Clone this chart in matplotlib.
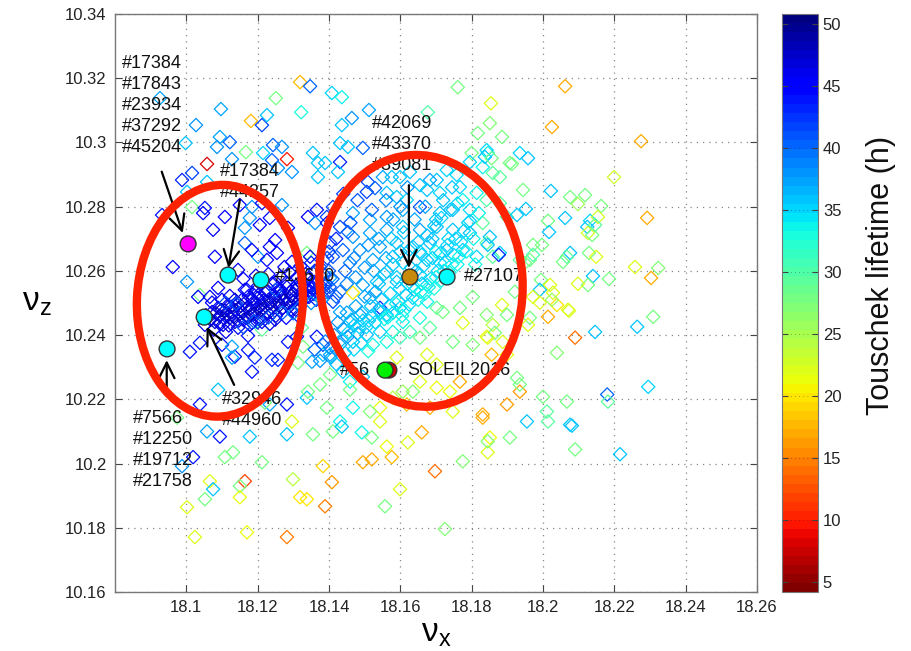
import numpy as np
import matplotlib
matplotlib.use("Agg")
import matplotlib.pyplot as plt
from matplotlib.patches import Ellipse
from matplotlib.colors import Normalize
from matplotlib.cm import ScalarMappable

plt.rcParams['font.family'] = ['Liberation Sans', 'DejaVu Sans']
plt.rcParams['mathtext.fontset'] = 'dejavusans'

# ---- data: (nu_x, nu_z, Touschek lifetime [h]) ----
pts = [
 (18.1319,10.3188,18),(18.1347,10.3175,40),(18.1251,10.3138,28),(18.1408,10.3154,35),(18.1436,10.3141,34),
 (18.1761,10.3172,28),(18.1854,10.3122,22),(18.1851,10.3060,27),(18.2062,10.3175,17),(18.2025,10.3048,17),
 (18.2275,10.3004,17),(18.1097,10.3104,37),(18.1181,10.3067,18),(18.1212,10.3054,42),(18.1226,10.3085,36),
 (18.1322,10.3094,33),(18.1027,10.3054,38),(18.0998,10.2998,36),(18.0926,10.3138,37),(18.1094,10.3017,37),
 (18.1122,10.3001,40),(18.1086,10.2986,38),(18.1167,10.2970,28),(18.1215,10.2967,35),(18.1243,10.2992,40),
 (18.1268,10.2986,38),(18.1282,10.2948,10),(18.1058,10.2933,8),(18.1128,10.2948,38),(18.0988,10.2883,43),
 (18.1016,10.2905,42),(18.1002,10.2846,36),(18.1058,10.2877,36),(18.1296,10.2908,38),(18.1257,10.2920,38),
 (18.1355,10.2967,36),(18.1369,10.2936,36),(18.1369,10.2892,36),(18.1431,10.2998,36),(18.1431,10.2939,43),
 (18.1453,10.2986,36),(18.1464,10.3076,38),(18.1436,10.3054,36),(18.1512,10.3101,37),(18.1677,10.3094,30),
 (18.1817,10.3029,28),(18.1800,10.2967,28),(18.1845,10.2967,34),(18.1495,10.2983,40),(18.1389,10.2936,36),
 (18.1425,10.2908,36),(18.1509,10.2877,42),(18.1506,10.2846,42),(18.1529,10.2858,40),(18.1551,10.2892,37),
 (18.1576,10.2892,36),(18.1599,10.2892,36),(18.1627,10.2908,36),(18.1702,10.2883,36),(18.1730,10.2914,35),
 (18.1758,10.2899,35),(18.1795,10.2939,35),(18.1831,10.2923,34),(18.1859,10.2905,29),(18.1879,10.2892,29),
 (18.1907,10.2936,28),(18.1935,10.2967,35),(18.1944,10.2852,28),(18.1885,10.3017,28),(18.1842,10.2976,35),
 (18.1683,10.2883,37),(18.1655,10.2867,36),(18.1562,10.2843,36),(18.1590,10.2830,36),(18.1618,10.2821,35),
 (18.1675,10.2852,36),(18.1711,10.2843,35),(18.1767,10.2861,35),(18.1775,10.2821,34),(18.1814,10.2843,34),
 (18.1842,10.2821,30),(18.1879,10.2811,29),(18.1899,10.2768,30),(18.1831,10.2749,29),(18.1795,10.2790,35),
 (18.1747,10.2790,36),(18.1711,10.2780,36),(18.1655,10.2799,41),(18.1607,10.2790,37),(18.1562,10.2768,38),
 (18.1515,10.2759,37),(18.1467,10.2780,37),(18.1411,10.2799,42),(18.1394,10.2768,42),(18.1431,10.2737,42),
 (18.1467,10.2706,38),(18.1515,10.2718,37),(18.1562,10.2728,37),(18.1607,10.2737,36),(18.1655,10.2728,37),
 (18.1702,10.2737,36),(18.1747,10.2728,36),(18.1795,10.2718,36),(18.1842,10.2687,29),(18.1879,10.2656,35),
 (18.1403,10.2687,42),(18.1439,10.2665,40),(18.1487,10.2665,38),(18.1543,10.2675,37),(18.1590,10.2687,36),
 (18.1635,10.2675,36),(18.1683,10.2687,36),(18.1730,10.2665,36),(18.1775,10.2665,35),(18.1814,10.2644,35),
 (18.1411,10.2644,41),(18.1459,10.2625,39),(18.1523,10.2634,37),(18.1579,10.2644,36),(18.1675,10.2634,36),
 (18.1711,10.2625,35),(18.1859,10.2644,29),(18.1935,10.2634,29),
 (18.1403,10.2578,37),(18.1431,10.2535,40),(18.1411,10.2504,42),(18.1467,10.2532,20),(18.1495,10.2556,37),
 (18.1534,10.2566,36),(18.1562,10.2597,36),(18.1590,10.2566,36),(18.1655,10.2588,35),(18.1675,10.2556,35),
 (18.1543,10.2485,43),(18.1515,10.2516,37),(18.1487,10.2463,37),(18.1459,10.2441,36),(18.1431,10.2472,37),
 (18.1562,10.2463,36),(18.1599,10.2485,35),(18.1635,10.2516,35),(18.1675,10.2504,34),(18.1702,10.2485,29),
 (18.1607,10.2441,34),(18.1655,10.2454,33),(18.1579,10.2410,34),(18.1543,10.2410,35),(18.1506,10.2401,36),
 (18.1467,10.2379,36),(18.1431,10.2370,37),(18.1403,10.2361,40),(18.1383,10.2370,41),(18.1383,10.2339,36),
 (18.1523,10.2370,34),(18.1562,10.2379,33),(18.1599,10.2392,31),(18.1627,10.2410,31),(18.1655,10.2392,28),
 (18.1683,10.2423,29),(18.1719,10.2472,28),(18.1767,10.2485,28),(18.1803,10.2519,28),(18.1775,10.2438,22),
 (18.1803,10.2370,27),(18.1747,10.2379,28),(18.1842,10.2395,21),(18.1887,10.2379,22),(18.1859,10.2432,24),
 (18.1885,10.2494,22),(18.1899,10.2463,28),(18.1842,10.2463,27),(18.1899,10.2339,21),(18.1927,10.2267,28),
 (18.1935,10.2224,16),(18.1767,10.2255,17),(18.1739,10.2224,21),(18.1702,10.2236,21),(18.1655,10.2255,22),
 (18.1635,10.2224,27),(18.1607,10.2224,26),(18.1579,10.2205,24),(18.1543,10.2174,21),(18.1515,10.2162,27),
 (18.1467,10.2174,34),(18.1431,10.2131,34),(18.1394,10.2174,28),(18.1683,10.2174,17),(18.1747,10.2162,22),
 (18.1831,10.2153,17),(18.1899,10.2184,16),(18.1618,10.2184,18),(18.1403,10.2277,28),(18.1459,10.2255,34),
 (18.1590,10.2330,22),(18.1675,10.2339,22),(18.1702,10.2308,22),
 (18.1010,10.2348,44),(18.1038,10.2376,44),(18.1136,10.2333,44),(18.1173,10.2354,44),(18.1192,10.2330,43),
 (18.1240,10.2323,43),(18.1257,10.2323,43),(18.1038,10.2184,44),(18.1089,10.2230,36),(18.1094,10.2084,44),
 (18.1058,10.2100,37),(18.1019,10.2020,44),(18.0988,10.1992,38),(18.0974,10.2143,28),(18.1131,10.2035,28),
 (18.1108,10.2020,28),(18.1178,10.2084,36),(18.1212,10.2004,28),(18.1282,10.2184,44),(18.1234,10.2184,37),
 (18.1164,10.1945,12),(18.1150,10.1930,28),(18.1066,10.1945,22),(18.1052,10.1889,28),(18.1075,10.1920,36),
 (18.1150,10.1895,21),(18.1002,10.1864,22),(18.1024,10.1771,22),(18.1170,10.1786,21),(18.1282,10.1771,15),
 (18.1299,10.1951,24),(18.1319,10.1895,20),(18.1338,10.1889,20),(18.1383,10.1992,19),(18.1408,10.1942,16),
 (18.1389,10.1867,15),(18.1355,10.2091,28),(18.1411,10.2100,28),(18.1375,10.2246,28),(18.1338,10.2205,36),
 (18.1282,10.2091,36),(18.1220,10.2190,28),(18.1296,10.2131,22),(18.1327,10.2364,28),(18.1366,10.2395,44),
 (18.1403,10.2339,37),(18.1439,10.2286,36),(18.1459,10.2230,28),(18.1436,10.2115,36),(18.1495,10.2270,36),
 (18.1492,10.2097,34),(18.1543,10.2131,22),(18.1520,10.2081,28),(18.1495,10.2004,17),(18.1520,10.2013,17),
 (18.1576,10.2020,18),(18.1562,10.2053,21),(18.1599,10.1920,22),(18.1557,10.1867,28),(18.1660,10.2097,17),
 (18.1621,10.2066,22),(18.1725,10.1796,27),(18.1697,10.1976,14),(18.1775,10.2007,27),(18.1851,10.2081,21),
 (18.1845,10.2035,22),(18.1831,10.2143,17),
 (18.2309,10.2457,28),(18.2264,10.2426,36),(18.2146,10.2410,36),(18.2090,10.2392,14),(18.2039,10.2345,27),
 (18.1935,10.2246,28),(18.2000,10.2208,28),(18.2011,10.2162,29),(18.2014,10.2131,29),(18.1955,10.2131,36),
 (18.1907,10.2081,28),(18.1845,10.2069,27),(18.2067,10.2193,28),(18.2081,10.2118,36),(18.2090,10.2044,28),
 (18.2180,10.2215,40),(18.2182,10.2193,29),(18.2216,10.2029,36),(18.2295,10.2239,35),(18.2070,10.2479,22),
 (18.2039,10.2494,20),(18.2014,10.2457,17),(18.1865,10.2407,28),(18.1856,10.2339,18),(18.1845,10.2392,22),
 (18.1958,10.2951,36),(18.2199,10.2892,23),(18.2022,10.2849,36),(18.2076,10.2830,28),(18.2118,10.2836,28),
 (18.2098,10.2808,26),(18.2163,10.2802,28),(18.1952,10.2793,36),(18.2292,10.2765,17),(18.2014,10.2756,28),
 (18.2062,10.2765,36),(18.2017,10.2721,36),(18.2132,10.2756,35),(18.2154,10.2768,23),(18.2124,10.2737,36),
 (18.2126,10.2718,23),(18.2146,10.2743,29),(18.2138,10.2712,28),(18.1972,10.2681,28),(18.1997,10.2681,28),
 (18.1963,10.2634,28),(18.1972,10.2650,30),(18.2076,10.2656,36),(18.2056,10.2628,28),(18.2067,10.2644,29),
 (18.2129,10.2656,28),(18.2149,10.2644,22),(18.2258,10.2612,22),(18.2323,10.2609,27),(18.2303,10.2578,17),
 (18.2185,10.2575,28),(18.2140,10.2584,36),(18.2126,10.2556,28),(18.2098,10.2560,22),(18.1994,10.2572,28),
 (18.1991,10.2541,36),(18.2020,10.2556,22),(18.2028,10.2532,22),(18.2025,10.2510,26),(18.1972,10.2519,22),
 (18.1991,10.2501,22),(18.2073,10.2476,22),(18.1963,10.2454,28),(18.1958,10.2432,22),(18.2076,10.2121,36),
 (18.1876,10.2650,43),(18.1851,10.2706,36),(18.1845,10.2681,36),(18.1949,10.2625,28),(18.1921,10.2535,28),
 (18.1927,10.2774,36),(18.1913,10.2933,28),(18.1837,10.2955,36),(18.1856,10.2951,28),
 (18.1240,10.2945,40),(18.0932,10.2774,44),(18.1016,10.2799,28),(18.1052,10.2796,44),(18.1047,10.2780,45),
 (18.1150,10.2805,45),(18.1184,10.2799,38),(18.1212,10.2811,45),(18.1268,10.2805,38),(18.1341,10.2768,45),
 (18.1366,10.2790,44),(18.1361,10.2749,38),(18.1108,10.2768,45),(18.1178,10.2765,38),(18.1234,10.2765,45),
 (18.1075,10.2728,45),(18.1164,10.2734,38),(18.1206,10.2743,45),(18.1285,10.2734,45),(18.1249,10.2696,45),
 (18.1234,10.2675,45),(18.1254,10.2656,45),(18.1201,10.2644,38),(18.1164,10.2687,40),(18.1080,10.2644,45),
 (18.1184,10.2665,45),(18.0962,10.2612,45),(18.1338,10.2656,28),(18.1145,10.2603,46),(18.1226,10.2634,45),
 (18.1296,10.2628,45),(18.1347,10.2644,45),(18.1394,10.2749,44),(18.1453,10.2721,40),(18.1002,10.2566,38),
 (18.1038,10.2525,28),(18.1066,10.2519,45),(18.1089,10.2547,45),(18.1170,10.2541,45),(18.1033,10.2519,45),
 (18.1072,10.2501,45),(18.1100,10.2370,44),(18.1128,10.2364,37),(18.1173,10.2398,44),(18.1285,10.2379,44),
 (18.1310,10.2395,44),(18.1324,10.2423,29),(18.1212,10.2417,29),(18.1184,10.2438,44),(18.1184,10.2286,44),
 (18.1128,10.2330,37),(18.1352,10.2317,37),(18.1313,10.2314,28),(18.1341,10.2224,28),
 # cyan cluster, densest part
 (18.1415,10.2400,38),(18.1440,10.2420,37),(18.1452,10.2395,38),(18.1470,10.2430,36),(18.1480,10.2405,37),
 (18.1495,10.2445,36),(18.1505,10.2425,35),(18.1520,10.2460,36),(18.1530,10.2440,35),(18.1545,10.2470,36),
 (18.1555,10.2450,34),(18.1570,10.2490,36),(18.1580,10.2470,35),(18.1595,10.2505,36),(18.1605,10.2460,34),
 (18.1615,10.2525,35),(18.1625,10.2495,35),(18.1640,10.2540,36),(18.1650,10.2510,34),(18.1660,10.2560,35),
 (18.1670,10.2530,34),(18.1685,10.2575,35),(18.1695,10.2545,33),(18.1705,10.2600,35),(18.1715,10.2570,34),
 (18.1725,10.2625,35),(18.1738,10.2595,34),(18.1750,10.2650,35),(18.1760,10.2620,34),(18.1770,10.2690,35),
 (18.1785,10.2660,34),(18.1790,10.2750,35),(18.1805,10.2700,34),(18.1820,10.2780,34),(18.1810,10.2620,33),
 (18.1420,10.2520,40),(18.1450,10.2560,39),(18.1475,10.2580,38),(18.1445,10.2600,40),(18.1470,10.2640,39),
 (18.1500,10.2610,38),(18.1525,10.2600,37),(18.1510,10.2680,38),(18.1540,10.2700,37),(18.1560,10.2640,37),
 (18.1575,10.2700,36),(18.1600,10.2660,36),(18.1610,10.2720,36),(18.1630,10.2610,36),(18.1640,10.2760,37),
 (18.1650,10.2690,36),(18.1670,10.2800,37),(18.1690,10.2700,36),(18.1700,10.2760,36),(18.1720,10.2820,36),
 (18.1735,10.2700,35),(18.1745,10.2860,36),(18.1600,10.2800,38),(18.1560,10.2820,39),(18.1520,10.2790,40),
 (18.1480,10.2820,41),(18.1440,10.2840,42),(18.1420,10.2700,43),(18.1400,10.2660,42),(18.1460,10.2750,41),
 (18.1620,10.2860,38),(18.1580,10.2760,37),(18.1540,10.2560,36),(18.1590,10.2580,35),(18.1700,10.2660,34),
 (18.1660,10.2650,35),(18.1620,10.2560,36),
 (18.1390,10.2380,39),(18.1405,10.2330,37),(18.1420,10.2355,38),(18.1445,10.2345,36),(18.1470,10.2355,35),
 (18.1490,10.2375,35),(18.1510,10.2350,33),(18.1360,10.2355,40),(18.1375,10.2320,38),(18.1420,10.2310,36),
 (18.1435,10.2385,36),(18.1455,10.2410,35),(18.1462,10.2448,36),(18.1485,10.2425,35),(18.1492,10.2470,36),
 (18.1512,10.2445,35),(18.1518,10.2490,36),(18.1538,10.2478,35),(18.1548,10.2510,36),(18.1565,10.2455,34),
 (18.1572,10.2530,35),(18.1588,10.2498,34),(18.1598,10.2545,35),(18.1612,10.2478,34),(18.1620,10.2580,35),
 (18.1635,10.2555,34),(18.1645,10.2600,36),(18.1658,10.2535,34),(18.1665,10.2615,35),(18.1680,10.2550,34),
 (18.1690,10.2640,35),(18.1700,10.2580,34),(18.1712,10.2655,35),(18.1722,10.2600,34),(18.1732,10.2680,35),
 (18.1745,10.2620,34),(18.1755,10.2700,35),(18.1765,10.2645,34),(18.1778,10.2725,35),(18.1795,10.2755,35),
 (18.1530,10.2535,37),(18.1555,10.2590,36),(18.1580,10.2620,36),(18.1608,10.2625,35),(18.1625,10.2665,36),
 (18.1655,10.2660,35),(18.1675,10.2710,36),(18.1695,10.2740,36),(18.1715,10.2765,35),(18.1740,10.2790,36),
 (18.1760,10.2810,35),(18.1500,10.2520,37),(18.1475,10.2490,37),(18.1450,10.2470,37),(18.1425,10.2440,38),
 # dense dark-blue streak
 (18.1061,10.2454,47),(18.1072,10.2472,46),(18.1080,10.2441,47),(18.1089,10.2485,46),(18.1094,10.2460,47),
 (18.1103,10.2432,46),(18.1108,10.2476,47),(18.1117,10.2494,46),(18.1122,10.2454,47),(18.1128,10.2472,45),
 (18.1136,10.2441,47),(18.1142,10.2494,46),(18.1150,10.2466,47),(18.1156,10.2510,46),(18.1161,10.2448,47),
 (18.1170,10.2485,46),(18.1175,10.2522,45),(18.1181,10.2463,47),(18.1187,10.2501,46),(18.1195,10.2479,47),
 (18.1201,10.2516,46),(18.1206,10.2454,47),(18.1212,10.2494,46),(18.1220,10.2532,45),(18.1226,10.2472,47),
 (18.1231,10.2510,46),(18.1240,10.2485,47),(18.1245,10.2525,46),(18.1251,10.2460,47),(18.1257,10.2504,46),
 (18.1265,10.2541,45),(18.1271,10.2485,47),(18.1277,10.2519,46),(18.1285,10.2501,47),(18.1291,10.2535,46),
 (18.1296,10.2476,47),(18.1302,10.2516,46),(18.1310,10.2547,45),(18.1316,10.2494,46),(18.1322,10.2525,46),
 (18.1330,10.2510,45),(18.1336,10.2541,45),(18.1344,10.2519,44),(18.1349,10.2550,44),(18.1358,10.2528,44),
 (18.1364,10.2510,43),(18.1372,10.2541,43),(18.1380,10.2522,42),(18.1389,10.2553,42),(18.1397,10.2535,41),
 (18.1077,10.2417,46),(18.1111,10.2410,46),(18.1145,10.2423,46),(18.1178,10.2432,46),(18.1212,10.2441,46),
 (18.1249,10.2448,46),(18.1280,10.2454,45),(18.1313,10.2460,44),(18.1122,10.2522,46),(18.1164,10.2541,45),
 (18.1201,10.2553,45),(18.1240,10.2560,45),(18.1280,10.2563,45),(18.1319,10.2566,44),(18.1358,10.2566,44),
 (18.1136,10.2510,47),(18.1192,10.2535,46),(18.1263,10.2522,47),(18.1307,10.2479,46),(18.1234,10.2435,46),
 (18.1052,10.2432,46),(18.1100,10.2510,46),
 (18.1055,10.2462,47),(18.1068,10.2448,48),(18.1083,10.2468,47),(18.1092,10.2437,46),(18.1098,10.2478,48),
 (18.1106,10.2452,47),(18.1114,10.2466,48),(18.1119,10.2430,46),(18.1126,10.2488,47),(18.1133,10.2458,48),
 (18.1139,10.2477,47),(18.1147,10.2445,46),(18.1153,10.2491,48),(18.1158,10.2470,47),(18.1166,10.2502,47),
 (18.1172,10.2455,48),(18.1179,10.2482,47),(18.1185,10.2512,46),(18.1190,10.2466,48),(18.1198,10.2496,47),
 (18.1204,10.2527,46),(18.1209,10.2478,48),(18.1217,10.2508,47),(18.1223,10.2490,48),(18.1228,10.2537,46),
 (18.1236,10.2499,48),(18.1242,10.2470,47),(18.1248,10.2515,47),(18.1255,10.2545,46),(18.1261,10.2493,48),
 (18.1268,10.2529,47),(18.1274,10.2507,48),(18.1282,10.2549,46),(18.1288,10.2488,47),(18.1294,10.2522,48),
 (18.1300,10.2503,47),(18.1305,10.2538,47),(18.1312,10.2558,45),(18.1318,10.2511,47),(18.1326,10.2539,46),
 (18.1333,10.2525,46),(18.1340,10.2555,45),(18.1347,10.2535,45),(18.1355,10.2548,44),(18.1362,10.2560,44),
 (18.1369,10.2532,43),(18.1376,10.2555,43),(18.1385,10.2538,42),(18.1392,10.2562,42),(18.1402,10.2550,41),
 (18.1140,10.2498,41),(18.1190,10.2442,40),(18.1230,10.2455,41),(18.1270,10.2470,40),(18.1300,10.2468,39),
 (18.1160,10.2425,42),(18.1250,10.2540,41),(18.1320,10.2490,40),(18.1350,10.2500,38),(18.1380,10.2510,37),
 (18.1200,10.2440,43),(18.1110,10.2500,42),
 (18.1160,10.2575,45),(18.1195,10.2585,46),(18.1230,10.2590,45),(18.1265,10.2580,46),(18.1290,10.2595,45),
 (18.1310,10.2580,46),(18.1335,10.2590,44),(18.1360,10.2600,43),(18.1385,10.2590,42),(18.1275,10.2612,45),
 (18.1320,10.2615,44),(18.1350,10.2625,43),(18.1375,10.2612,42),(18.1400,10.2600,41),(18.1250,10.2565,46),
 (18.1340,10.2575,45),(18.1410,10.2575,40),(18.1395,10.2640,42),
]
nu_x = [p[0] for p in pts]
nu_z = [p[1] for p in pts]
lifetime = [p[2] for p in pts]

# highlighted working points
hl_x = [18.1005, 18.1117, 18.1209, 18.1050, 18.0946, 18.1627, 18.1731, 18.1568, 18.1557]
hl_y = [10.2684, 10.2587, 10.2572, 10.2456, 10.2357, 10.2581, 10.2581, 10.2291, 10.2291]
hl_c = ['#ff00ff', '#00ffff', '#00ffff', '#00ffff', '#00ffff', '#c88a0a', '#00ffff', '#cc0000', '#00ee00']

labels = [
    ("#17384\n#17843\n#23934\n#37292\n#45204", 18.0820, 10.3115),
    ("#17384\n#44257", 18.1094, 10.2877),
    ("#13620", 18.1249, 10.2581),
    ("#42069\n#43370\n#39081", 18.1520, 10.2994),
    ("#27107", 18.1779, 10.2581),
    ("#56", 18.1431, 10.2291),
    ("SOLEIL2016", 18.1619, 10.2291),
    ("#32946\n#44960", 18.1100, 10.2167),
    ("#7566\n#12250\n#19712\n#21758", 18.0850, 10.2042),
]
arrows = [  # (x_from, y_from, x_to, y_to)
    (18.0931, 10.2909, 18.0990, 10.2718),
    (18.1150, 10.2821, 18.1118, 10.2609),
    (18.1134, 10.2245, 18.1057, 10.2426),
    (18.0945, 10.2229, 18.0945, 10.2322),
    (18.1624, 10.2867, 18.1624, 10.2609),
]
ellipses = [  # (cx, cy, width, height, angle)
    (18.1094, 10.2507, 0.0465, 0.0722, -2),
    (18.1658, 10.2569, 0.0569, 0.0785, 4),
]

xticks = [18.1, 18.12, 18.14, 18.16, 18.18, 18.2, 18.22, 18.24, 18.26]
xticklabels = ['18.1', '18.12', '18.14', '18.16', '18.18', '18.2', '18.22', '18.24', '18.26']
yticks = [10.16, 10.18, 10.2, 10.22, 10.24, 10.26, 10.28, 10.3, 10.32, 10.34]
yticklabels = ['10.16', '10.18', '10.2', '10.22', '10.24', '10.26', '10.28', '10.3', '10.32', '10.34']
cbticks = [5, 10, 15, 20, 25, 30, 35, 40, 45, 50]

# ---- figure ----
fig = plt.figure(figsize=(9.11, 6.51), dpi=100)
ax = fig.add_axes([115/911, 59/651, 642/911, 578/651])
cax = fig.add_axes([782/911, 59/651, 36/911, 578/651])

cmap = plt.get_cmap('jet_r', 64)
norm = Normalize(vmin=4.2, vmax=50.8)
cols = cmap(norm(np.array(lifetime)))

ax.scatter(nu_x, nu_z, s=46, marker='D', facecolors='none', edgecolors=cols, linewidths=0.9, zorder=2)
ax.scatter(hl_x, hl_y, s=130, marker='o', c=hl_c, edgecolors='#333333', linewidths=1.0, zorder=4)

for txt, x, y in labels:
    ax.text(x, y, txt, fontsize=13, ha='left', va='center', linespacing=1.3, color='#111111', zorder=5)

for x0, y0, x1, y1 in arrows:
    ax.annotate('', xy=(x1, y1), xytext=(x0, y0),
                arrowprops=dict(arrowstyle='->', lw=1.6, color='black', mutation_scale=28,
                                shrinkA=0, shrinkB=0), zorder=6)

for cx, cy, w, h, ang in ellipses:
    ax.add_patch(Ellipse((cx, cy), w, h, angle=ang, fill=False, edgecolor='#ff2200', lw=6, zorder=7))

ax.set_xlim(18.08, 18.26)
ax.set_ylim(10.16, 10.34)
ax.set_xticks(xticks)
ax.set_xticklabels(xticklabels)
ax.set_yticks(yticks)
ax.set_yticklabels(yticklabels)
ax.tick_params(direction='in', top=True, right=True, length=5, width=0.8, labelsize=12,
               colors='#444444', labelcolor='#222222', pad=6)
ax.grid(True, linestyle=(0, (1, 4)), color='#888888', linewidth=0.9)
for sp in ax.spines.values():
    sp.set_color('#777777')
    sp.set_linewidth(1.0)

ax.set_xlabel(r'$\mathregular{\nu_x}$', fontsize=24, labelpad=2)
ax.set_ylabel(r'$\mathregular{\nu_z}$', fontsize=24, rotation=0, labelpad=20, va='center')

sm = ScalarMappable(norm=norm, cmap=cmap)
cb = fig.colorbar(sm, cax=cax, ticks=cbticks)
cb.outline.set_edgecolor('#777777')
cax.tick_params(direction='in', length=4, left=True, right=True, labelsize=12, colors='#444444',
                labelcolor='#222222')
for t in cbticks:
    cax.axhline(t, color='#222222', lw=0.6, ls=(0, (1, 4)), alpha=0.5)
fig.text(881/911, 1 - 275/651, 'Touschek lifetime (h)', rotation=90, fontsize=22,
         ha='center', va='center', color='#111111')

fig.savefig('out.png', dpi=100)
